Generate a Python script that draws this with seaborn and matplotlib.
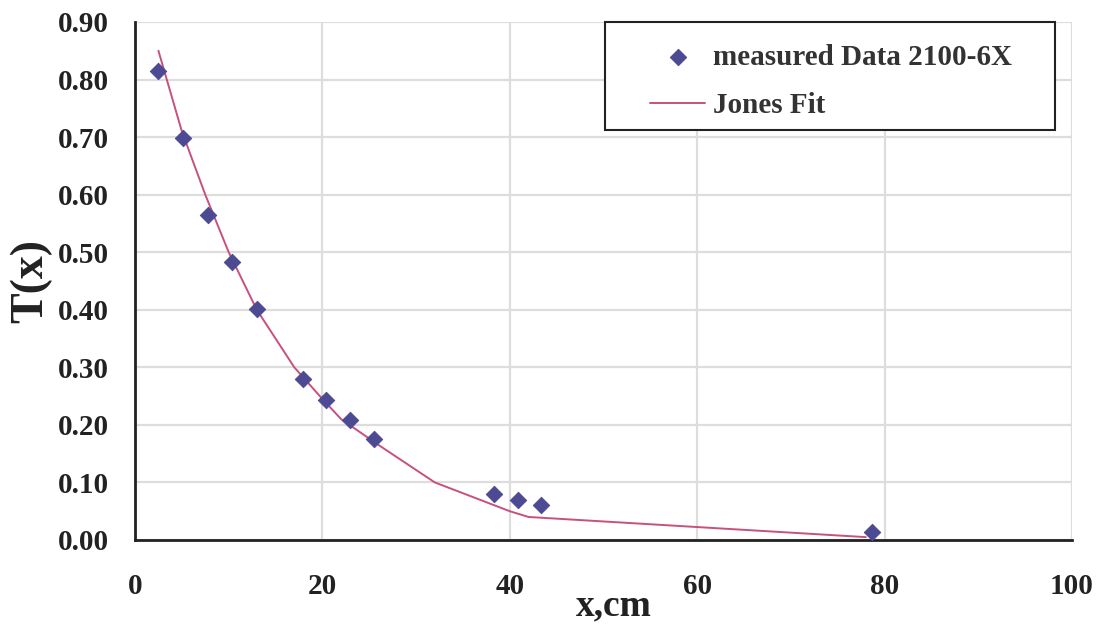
import matplotlib
matplotlib.use("Agg")
import matplotlib.pyplot as plt
from matplotlib.patches import Rectangle
import seaborn as sns
import pandas as pd

# measured data
x_meas = [2.5, 5.1, 7.8, 10.4, 13.0, 17.9, 20.4, 22.9, 25.5, 38.3, 40.9, 43.3, 78.7]
t_meas = [0.815, 0.698, 0.565, 0.483, 0.402, 0.280, 0.243, 0.208, 0.175, 0.080, 0.070, 0.061, 0.014]

# Jones fit
x_fit = [2.5, 5.0, 7.5, 10.0, 13.0, 17.0, 20.0, 22.0, 26.0, 32.0, 36.0, 40.0, 42.0, 78.0]
t_fit = [0.850, 0.710, 0.600, 0.500, 0.400, 0.300, 0.245, 0.210, 0.165, 0.100, 0.075, 0.050, 0.040, 0.005]

x_ticks = [0, 20, 40, 60, 80, 100]
y_ticks = [0.0, 0.1, 0.2, 0.3, 0.4, 0.5, 0.6, 0.7, 0.8, 0.9]

sns.set_style("whitegrid")
plt.rcParams['font.family'] = ['Liberation Serif', 'DejaVu Serif']
plt.rcParams['font.weight'] = 'bold'

fig = plt.figure(figsize=(11.04, 6.24), dpi=100)
ax = fig.add_axes([135/1104, 84/624, 937/1104, 518/624])

df_meas = pd.DataFrame({"x": x_meas, "T": t_meas})
df_fit = pd.DataFrame({"x": x_fit, "T": t_fit})

sns.lineplot(data=df_fit, x="x", y="T", ax=ax, color="#C8507F", linewidth=1.4,
             label="Jones Fit", sort=False, zorder=2)
sns.scatterplot(data=df_meas, x="x", y="T", ax=ax, marker="D", s=70,
                color="#4B4A93", edgecolor="#4B4A93", label="measured Data 2100-6X", zorder=3)

ax.set_xlim(0, 100)
ax.set_ylim(0, 0.9)
ax.set_xticks(x_ticks)
ax.set_yticks(y_ticks)
ax.set_xticklabels([str(v) for v in x_ticks])
ax.set_yticklabels([f"{v:.2f}" for v in y_ticks])

ax.grid(True, color="#DDDDDD", linewidth=1.6)
for s in ["top", "right"]:
    ax.spines[s].set_visible(False)
for s in ["left", "bottom"]:
    ax.spines[s].set_visible(True)
    ax.spines[s].set_color("#222222")
    ax.spines[s].set_linewidth(2.0)

ax.tick_params(axis="x", direction="inout", length=14, width=1.5, color="#222222",
               pad=17, labelsize=21, labelcolor="#222222")
ax.tick_params(axis="y", direction="inout", length=8, width=1.5, color="#222222",
               pad=15, labelsize=21, labelcolor="#222222")
for lbl in ax.get_xticklabels() + ax.get_yticklabels():
    lbl.set_fontweight("bold")

ax.set_xlabel("x,cm", fontsize=27, fontweight="bold", color="#222222")
ax.set_ylabel("T(x)", fontsize=33, fontweight="bold", color="#222222")
ax.xaxis.set_label_coords((614-135)/937, -(588-540)/518)
ax.yaxis.set_label_coords(-(135-52)/937, 0.5)

# legend frame (box as in the reference)
frame = Rectangle(((605-135)/937, (540-130)/518), (1055-605)/937, (130-22)/518,
                  transform=ax.transAxes, facecolor="white", edgecolor="#222222",
                  linewidth=1.5, clip_on=False, zorder=4)
ax.add_patch(frame)

handles, labels = ax.get_legend_handles_labels()
order = [labels.index("measured Data 2100-6X"), labels.index("Jones Fit")]
leg = ax.legend([handles[i] for i in order], [labels[i] for i in order],
                loc="upper left", bbox_to_anchor=((650-135)/937, (540-44)/518), frameon=False,
                prop={"family": ["Liberation Serif"], "weight": "bold", "size": 21},
                borderpad=0.0, labelspacing=0.72, handlelength=1.9, handletextpad=0.25,
                borderaxespad=0.0)
leg.set_zorder(5)
for t in leg.get_texts():
    t.set_color("#333333")

fig.savefig("out.png", dpi=100)
